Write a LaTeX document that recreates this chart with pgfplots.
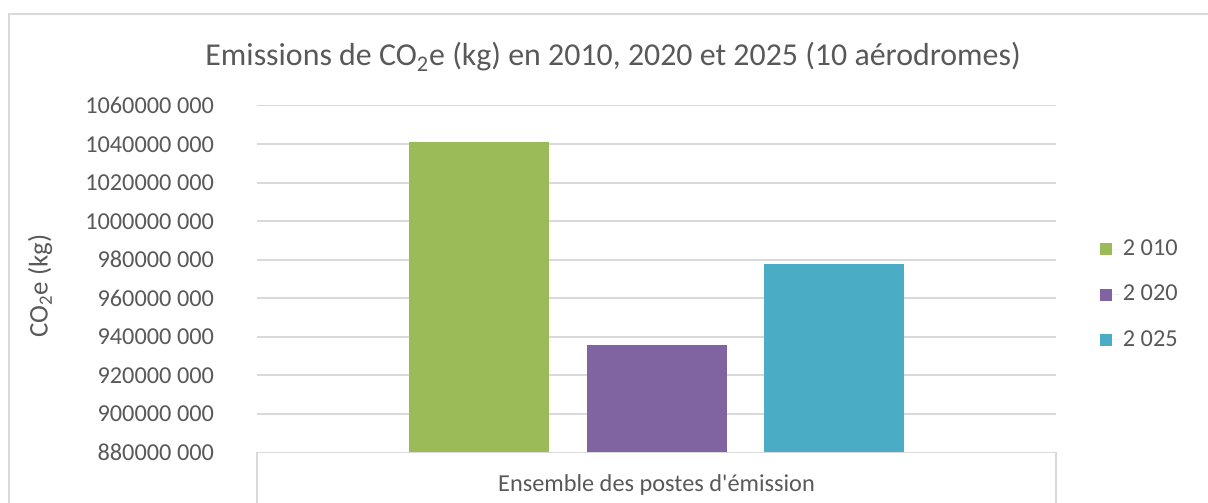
\documentclass[border=0pt]{standalone}
\usepackage{fontspec}
\setmainfont{Carlito}
\usepackage{pgfplots}
\pgfplotsset{compat=1.18}

\definecolor{c2010}{HTML}{9BBB59}
\definecolor{c2020}{HTML}{8064A2}
\definecolor{c2025}{HTML}{4BACC6}
\definecolor{txt}{HTML}{595959}
\definecolor{grd}{HTML}{D9D9D9}

\begin{document}
\begin{tikzpicture}
\useasboundingbox (0,0) rectangle (604bp,251.5bp);
% outer chart frame (top and left edges visible)
\draw[grd, line width=0.8bp] (4.5bp,0) -- (4.5bp,244.5bp) -- (604bp,244.5bp);
\node[txt, font=\fontsize{16}{18}\selectfont] at (306.5bp,223bp)
  {Emissions de CO\textsubscript{2}e (kg) en 2010, 2020 et 2025 (10 aérodromes)};
\begin{axis}[
  at={(128.5bp,25.35bp)}, anchor=south west,
  scale only axis,
  width=399.5bp, height=173.3bp,
  ybar=18.75bp, bar width=70bp,
  xmin=-1, xmax=1,
  ymin=880000000, ymax=1060000000,
  ytick={880000000,900000000,920000000,940000000,960000000,980000000,1000000000,1020000000,1040000000,1060000000},
  yticklabels={880000 000,900000 000,920000 000,940000 000,960000 000,980000 000,1000000 000,1020000 000,1040000 000,1060000 000},
  xtick=\empty,
  scaled y ticks=false,
  axis y line*=left,
  axis x line*=bottom,
  y axis line style={draw=none},
  x axis line style={grd, line width=0.8bp, -},
  ymajorgrids,
  grid style={grd, line width=0.8bp},
  major tick length=0pt,
  yticklabel style={xshift=-18bp},
  tick label style={txt, font=\fontsize{12.2}{14}\selectfont},
  ylabel={CO\textsubscript{2}e (kg)},
  every axis y label/.style={at={([xshift=-108.5bp]rel axis cs:0,0.48)}, rotate=90, anchor=center},
  ylabel style={txt, font=\fontsize{13.5}{15}\selectfont},
  legend style={draw=none, fill=none, at={(1.047,0.455)}, anchor=west,
    font=\fontsize{12.2}{14}\selectfont, text=txt, row sep=9.3bp,
    cells={anchor=west}},
  legend image code/.code={\fill[#1] (0bp,-3bp) rectangle (6bp,3bp); \path (0bp,0bp) -- (9.5bp,0bp);},
  clip=false,
]
\addplot[fill=c2010, draw=none] coordinates {(0,1041200000)};
\addlegendentry{2 010}
\addplot[fill=c2020, draw=none] coordinates {(0,935500000)};
\addlegendentry{2 020}
\addplot[fill=c2025, draw=none] coordinates {(0,977600000)};
\addlegendentry{2 025}
% category box below the axis
\draw[grd, line width=0.8bp] (axis cs:-1,880000000) -- ([yshift=-25.35bp]axis cs:-1,880000000);
\draw[grd, line width=0.8bp] (axis cs:1,880000000) -- ([yshift=-25.35bp]axis cs:1,880000000);
\node[txt, font=\fontsize{12.2}{14}\selectfont, yshift=-16.5bp] at (axis cs:0,880000000) {Ensemble des postes d\textquotesingle émission};
\end{axis}
\end{tikzpicture}
\end{document}
